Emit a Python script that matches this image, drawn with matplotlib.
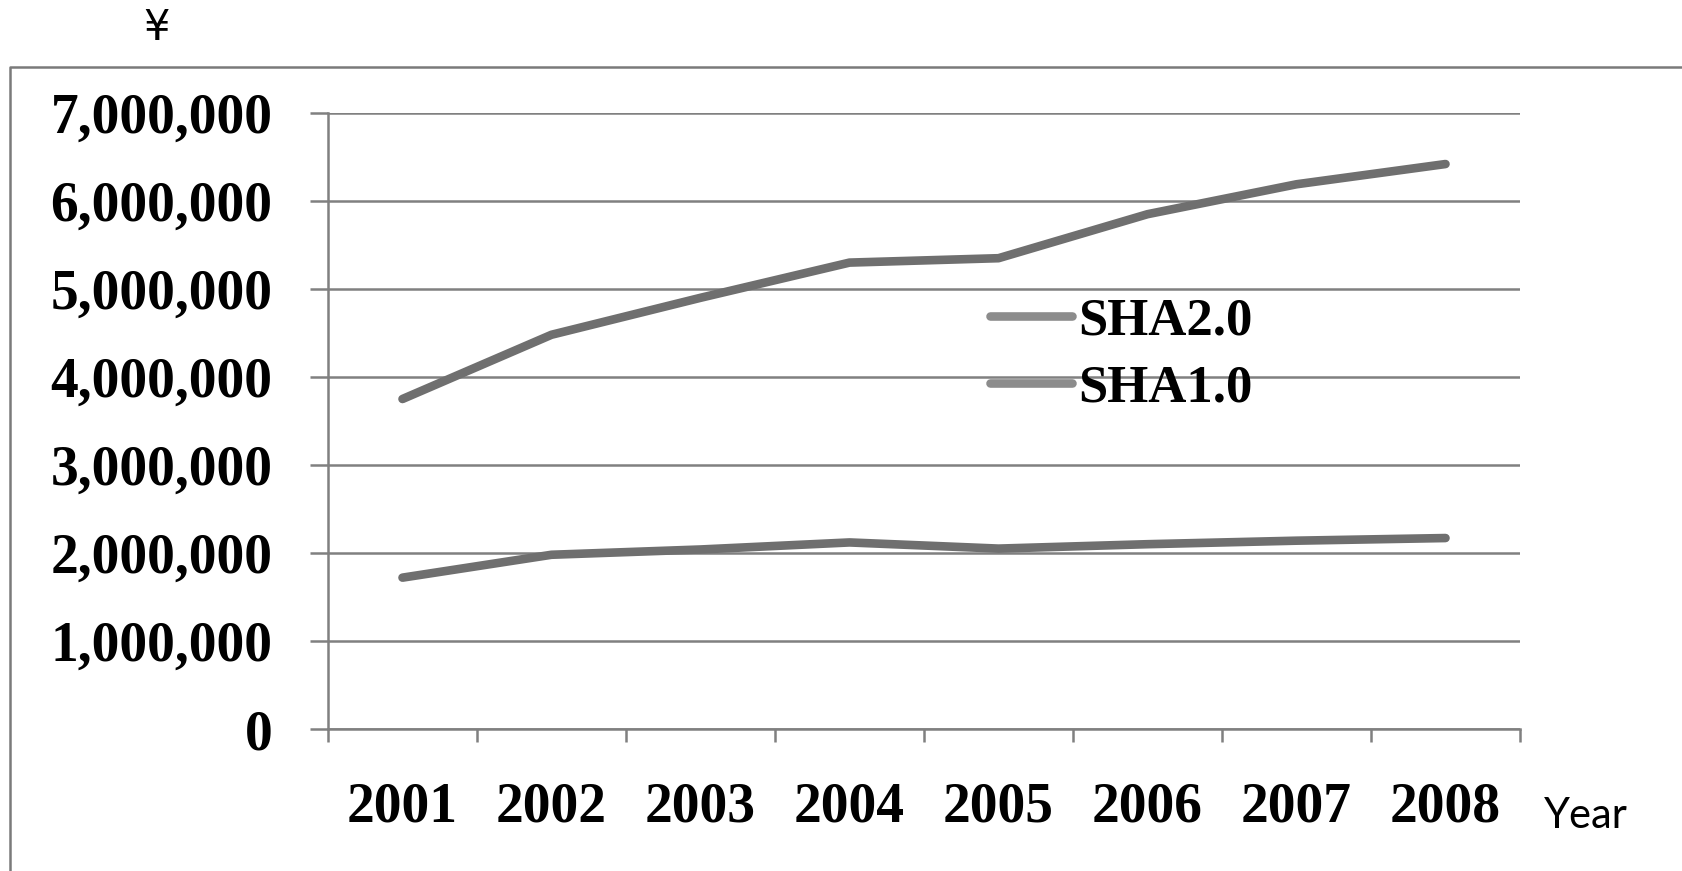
import numpy as np
import matplotlib.pyplot as plt
from matplotlib.lines import Line2D
from matplotlib.ticker import FuncFormatter

years = ['2001', '2002', '2003', '2004', '2005', '2006', '2007', '2008']
sha20 = [3750000, 4480000, 4900000, 5300000, 5350000, 5850000, 6190000, 6420000]
sha10 = [1720000, 1980000, 2040000, 2120000, 2050000, 2100000, 2140000, 2170000]

W, H = 1683, 871
fig = plt.figure(figsize=(W / 100, H / 100), dpi=100)
ax = fig.add_axes([328 / W, 1 - 729 / H, (1520 - 328) / W, (729 - 113) / H])

line_col = '#6f6f6f'
grid_col = '#808080'
x = np.arange(len(years))

ax.plot(x, sha20, color=line_col, lw=6.2, solid_capstyle='round', label='SHA2.0', zorder=3)
ax.plot(x, sha10, color=line_col, lw=6.2, solid_capstyle='round', label='SHA1.0', zorder=3)

ax.set_xlim(-0.5, len(years) - 0.5)
ax.set_ylim(0, 7000000)
ax.set_yticks(np.arange(0, 7000001, 1000000))
ax.yaxis.set_major_formatter(FuncFormatter(lambda v, p: '{:,.0f}'.format(v)))
ax.set_xticks(x)
ax.set_xticklabels(years)
# x ticks sit between categories
ax.set_xticks(np.arange(-0.5, len(years), 1), minor=True)
ax.tick_params(axis='x', which='major', length=0, pad=38)
ax.tick_params(axis='x', which='minor', length=9, width=1.8, color=grid_col)
ax.tick_params(axis='y', length=13, width=1.8, color=grid_col, pad=27)

ax.grid(axis='y', color=grid_col, lw=1.8)
for s in ['top', 'right']:
    ax.spines[s].set_visible(False)
for s in ['left', 'bottom']:
    ax.spines[s].set_color(grid_col)
    ax.spines[s].set_linewidth(1.8)

for lab in ax.get_xticklabels() + ax.get_yticklabels():
    lab.set_fontfamily('Liberation Serif')
    lab.set_fontweight('bold')
    lab.set_fontsize(40)

leg = fig.legend(loc='center left', bbox_to_anchor=(990 / W, 1 - 355 / H),
                 frameon=False, borderpad=0, borderaxespad=0,
                 handlelength=1.55, handletextpad=0.12, labelspacing=0.36,
                 prop={'family': 'Liberation Serif', 'weight': 'bold', 'size': 38})
for h in leg.legend_handles:
    h.set_color('#8c8c8c')

fig.text(157 / W, 1 - 28 / H, '¥', fontsize=30, ha='center', va='center', family='DejaVu Sans')
fig.text(1544 / W, 1 - 816 / H, 'Year', fontsize=30, ha='left', va='center', family='Lato')

# outer chart frame (left and top edges visible in the scan)
fig.add_artist(Line2D([10 / W, 10 / W, 1], [0, 1 - 67 / H, 1 - 67 / H],
                      transform=fig.transFigure, color='#7a7a7a', lw=1.8))

fig.savefig('out.png', dpi=100)
